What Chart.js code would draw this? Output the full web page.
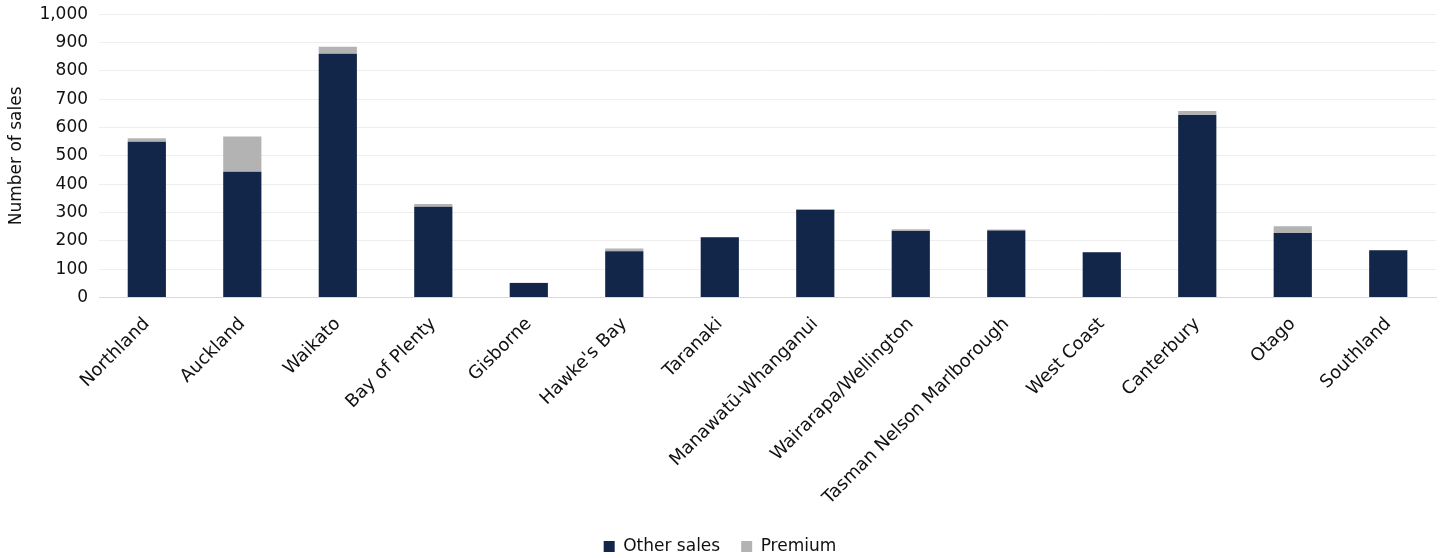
<!DOCTYPE html>
<html>
<head>
<meta charset="utf-8">
<script src="https://cdn.jsdelivr.net/npm/chart.js@4/dist/chart.umd.min.js"></script>
<style>
  html, body { margin: 0; padding: 0; background: #fff; overflow: hidden; }
  #wrap { width: 1448px; height: 572px; margin-top: -7px; }
</style>
</head>
<body>
<div id="wrap"><canvas id="chart"></canvas></div>
<script>
const regions = ["Northland", "Auckland", "Waikato", "Bay of Plenty", "Gisborne", "Hawke's Bay", "Taranaki",
  "Manawatū-Whanganui", "Wairarapa/Wellington", "Tasman Nelson Marlborough", "West Coast", "Canterbury", "Otago", "Southland"];
const otherSales = [550, 444, 860, 320, 51, 163, 213, 310, 235, 237, 160, 644, 228, 167];
const premium = [12, 124, 25, 10, 1, 10, 1, 2, 6, 3, 1, 14, 24, 1];

const font = "'DejaVu Sans', sans-serif";

new Chart(document.getElementById("chart"), {
  type: 'bar',
  data: {
    labels: regions,
    datasets: [
      { label: 'Other sales', data: otherSales, backgroundColor: '#12264a', borderWidth: 0 },
      { label: 'Premium', data: premium, backgroundColor: '#b3b3b3', borderWidth: 0 }
    ]
  },
  options: {
    responsive: true,
    maintainAspectRatio: false,
    animation: false,
    datasets: { bar: { barPercentage: 0.4, categoryPercentage: 1 } },
    layout: { padding: { top: 0, right: 12, left: 4, bottom: 0 } },
    plugins: {
      tooltip: { enabled: false },
      legend: {
        position: 'bottom',
        labels: { color: '#111', font: { family: font, size: 17 }, boxWidth: 11, boxHeight: 11, padding: 21 }
      }
    },
    scales: {
      x: {
        stacked: true,
        grid: { display: false },
        border: { color: '#d9d9d9' },
        ticks: { color: '#111', font: { family: font, size: 18 }, padding: 8, minRotation: 45, maxRotation: 45, autoSkip: false }
      },
      y: {
        stacked: true,
        min: 0, max: 1000,
        grid: { color: '#eeeeee', drawTicks: false },
        border: { display: false },
        ticks: {
          stepSize: 100, padding: 11, color: '#111', font: { family: font, size: 17 },
          callback: v => v.toLocaleString('en-US')
        },
        title: { display: true, text: 'Number of sales', color: '#111', font: { family: font, size: 17 }, padding: 2 }
      }
    }
  }
});
</script>
</body>
</html>
